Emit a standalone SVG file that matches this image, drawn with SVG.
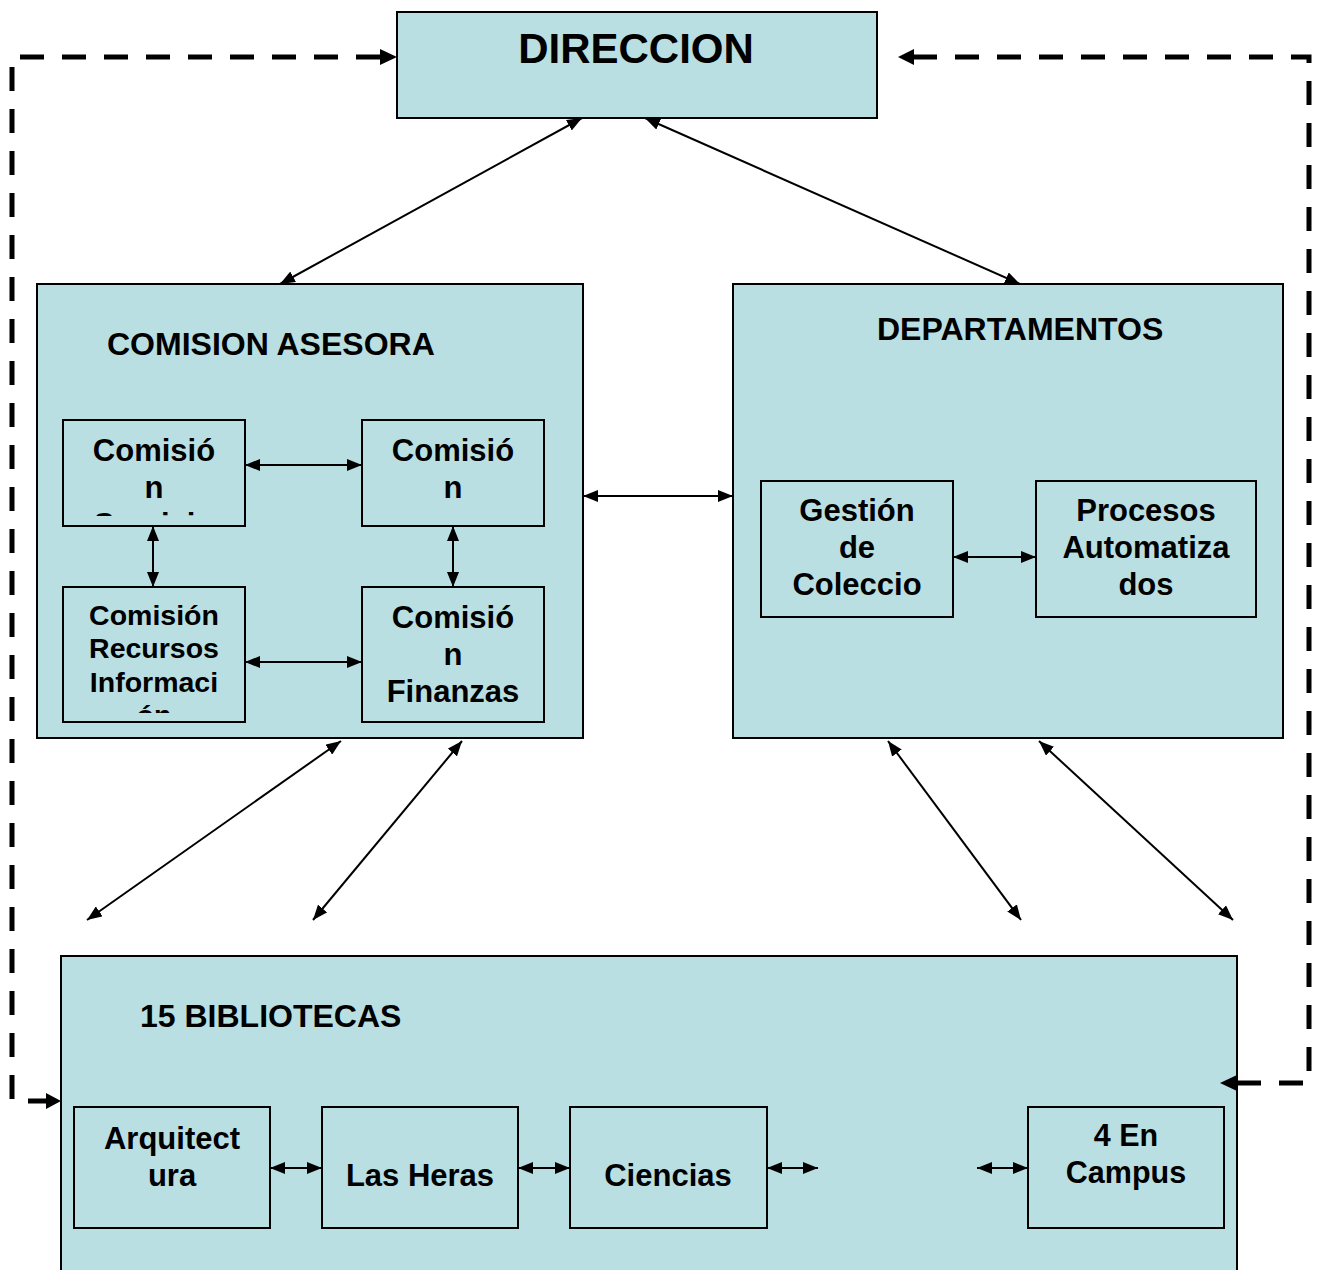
<svg xmlns="http://www.w3.org/2000/svg" width="1321" height="1270" viewBox="0 0 1321 1270">
<style>
.box{fill:#B9DFE3;stroke:#000;stroke-width:2}
.t{font-family:"Liberation Sans",Arial,sans-serif;font-weight:bold;fill:#000}
.c{text-anchor:middle}
.ln{stroke:#000;stroke-width:2;fill:none;marker-start:url(#ah);marker-end:url(#ah)}
.dash{stroke:#000;stroke-width:5;fill:none;stroke-dasharray:24 18}
</style>
<defs>
<marker id="ah" viewBox="0 0 15 12" refX="15" refY="6" markerWidth="15" markerHeight="12" markerUnits="userSpaceOnUse" orient="auto-start-reverse">
<path d="M0,0 L15,6 L0,12 z" fill="#000"/>
</marker>
<clipPath id="clipA"><rect x="63" y="420" width="182" height="96"/></clipPath>
<clipPath id="clipC"><rect x="63" y="587" width="182" height="126"/></clipPath>
</defs>

<g id="direccion">
<rect class="box" x="397" y="12" width="480" height="106"/>
<text class="t c" x="636" y="63" font-size="42">DIRECCION</text>
</g>

<g id="comision-asesora">
<rect class="box" x="37" y="284" width="546" height="454"/>
<text class="t" x="107" y="355" font-size="32">COMISION ASESORA</text>
</g>

<g id="departamentos">
<rect class="box" x="733" y="284" width="550" height="454"/>
<text class="t" x="877" y="340" font-size="32">DEPARTAMENTOS</text>
</g>

<g id="bibliotecas">
<rect class="box" x="61" y="956" width="1176" height="330"/>
<text class="t" x="140" y="1027" font-size="32">15 BIBLIOTECAS</text>
</g>

<g id="comision-servicio">
<rect class="box" x="63" y="420" width="182" height="106"/>
<g clip-path="url(#clipA)">
<text class="t c" font-size="31"><tspan x="154" y="461">Comisió</tspan><tspan x="154" y="498">n</tspan><tspan x="154" y="535">Servicio</tspan></text>
</g>
</g>

<g id="comision-2">
<rect class="box" x="362" y="420" width="182" height="106"/>
<text class="t c" font-size="31"><tspan x="453" y="461">Comisió</tspan><tspan x="453" y="498">n</tspan></text>
</g>

<g id="comision-recursos">
<rect class="box" x="63" y="587" width="182" height="135"/>
<g clip-path="url(#clipC)">
<text class="t c" font-size="28.5"><tspan x="154" y="625">Comisión</tspan><tspan x="154" y="658">Recursos</tspan><tspan x="154" y="692">Informaci</tspan><tspan x="154" y="725">ón</tspan></text>
</g>
</g>

<g id="comision-finanzas">
<rect class="box" x="362" y="587" width="182" height="135"/>
<text class="t c" font-size="31"><tspan x="453" y="628">Comisió</tspan><tspan x="453" y="665">n</tspan><tspan x="453" y="702">Finanzas</tspan></text>
</g>

<g id="gestion">
<rect class="box" x="761" y="481" width="192" height="136"/>
<text class="t c" font-size="31"><tspan x="857" y="521">Gestión</tspan><tspan x="857" y="558">de</tspan><tspan x="857" y="595">Coleccio</tspan></text>
</g>

<g id="procesos">
<rect class="box" x="1036" y="481" width="220" height="136"/>
<text class="t c" font-size="31"><tspan x="1146" y="521">Procesos</tspan><tspan x="1146" y="558">Automatiza</tspan><tspan x="1146" y="595">dos</tspan></text>
</g>

<g id="arquitectura">
<rect class="box" x="74" y="1107" width="196" height="121"/>
<text class="t c" font-size="31"><tspan x="172" y="1149">Arquitect</tspan><tspan x="172" y="1186">ura</tspan></text>
</g>

<g id="las-heras">
<rect class="box" x="322" y="1107" width="196" height="121"/>
<text class="t c" x="420" y="1186" font-size="31">Las Heras</text>
</g>

<g id="ciencias">
<rect class="box" x="570" y="1107" width="197" height="121"/>
<text class="t c" x="668" y="1186" font-size="31">Ciencias</text>
</g>

<g id="campus">
<rect class="box" x="1028" y="1107" width="196" height="121"/>
<text class="t c" font-size="30.5"><tspan x="1126" y="1146">4 En</tspan><tspan x="1126" y="1183">Campus</tspan></text>
</g>

<g id="connectors">
<line class="ln" x1="582" y1="118" x2="280" y2="284"/>
<line class="ln" x1="645" y1="118" x2="1020" y2="284"/>
<line class="ln" x1="245" y1="465" x2="362" y2="465"/>
<line class="ln" x1="153" y1="526" x2="153" y2="587"/>
<line class="ln" x1="453" y1="526" x2="453" y2="587"/>
<line class="ln" x1="245" y1="662" x2="362" y2="662"/>
<line class="ln" x1="583" y1="496" x2="733" y2="496"/>
<line class="ln" x1="953" y1="557" x2="1036" y2="557"/>
<line class="ln" x1="341" y1="741" x2="87" y2="920"/>
<line class="ln" x1="462" y1="741" x2="313" y2="920"/>
<line class="ln" x1="888" y1="741" x2="1021" y2="920"/>
<line class="ln" x1="1039" y1="741" x2="1233" y2="920"/>
<line class="ln" x1="270" y1="1168" x2="322" y2="1168"/>
<line class="ln" x1="518" y1="1168" x2="570" y2="1168"/>
<line class="ln" x1="767" y1="1168" x2="818" y2="1168"/>
<line class="ln" x1="977" y1="1168" x2="1028" y2="1168"/>
<path class="dash" d="M380 57 H12 V1101 H46"/>
<polygon points="397,57 380,49 380,65" fill="#000"/>
<polygon points="61,1101 46,1093 46,1109" fill="#000"/>
<path class="dash" d="M913 57 H1309 V1083 H1237"/>
<polygon points="898,57 914,49 914,65" fill="#000"/>
<polygon points="1220,1083 1237,1075 1237,1091" fill="#000"/>
</g>
</svg>
